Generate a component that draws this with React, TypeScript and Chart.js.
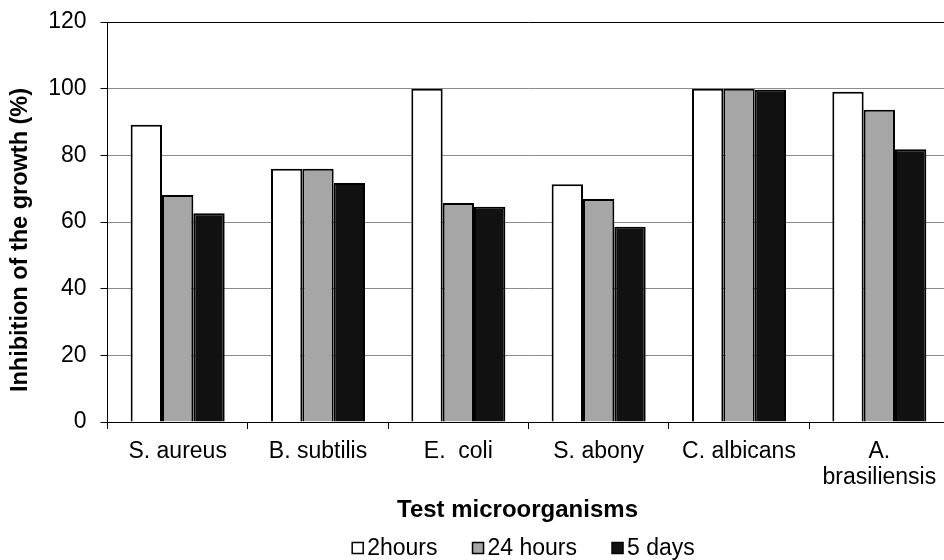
import React, { useEffect, useRef } from "react";
import { Chart, registerables } from "chart.js";

Chart.register(...registerables);

const categories: (string | string[])[] = [
  "S. aureus",
  "B. subtilis",
  "E.  coli",
  "S. abony",
  "C. albicans",
  ["A.", "brasiliensis"],
];
const seriesNames = ["2hours", "24 hours", "5 days"];
const values2h = [89.2, 76.0, 100, 71.3, 100, 99.1];
const values24h = [68.1, 76.0, 65.7, 66.9, 100, 93.7];
const values5d = [62.6, 71.7, 64.6, 58.6, 99.7, 81.8];
const seriesColors = ["#ffffff", "#a6a6a6", "#111111"];
const yMin = 0;
const yMax = 120;
const yStep = 20;
const yTitle = "Inhibition of the growth (%)";
const xTitle = "Test microorganisms";

const FONT = "'Liberation Sans', Arial, Helvetica, sans-serif";

// Draws axis titles (positioned like the original, slightly off the plot centre)
const titlesPlugin = {
  id: "axisTitles",
  afterDraw(chart: any) {
    const ctx = chart.ctx as CanvasRenderingContext2D;
    const ca = chart.chartArea;
    ctx.save();
    ctx.fillStyle = "#000";
    ctx.textAlign = "center";
    ctx.textBaseline = "middle";
    // y title
    ctx.font = `bold 23.5px ${FONT}`;
    ctx.translate(20.5, (ca.top + ca.bottom) / 2 + 18);
    ctx.rotate(-Math.PI / 2);
    ctx.fillText(yTitle, 0, 0);
    ctx.restore();
    ctx.save();
    ctx.fillStyle = "#000";
    ctx.textAlign = "center";
    ctx.textBaseline = "middle";
    ctx.font = `bold 24px ${FONT}`;
    ctx.fillText(xTitle, (ca.left + ca.right) / 2 - 11, ca.bottom + 88.5);
    ctx.restore();
  },
};

const legendPlugin = {
  id: "bottomLegend",
  afterDraw(chart: any) {
    const ctx = chart.ctx as CanvasRenderingContext2D;
    ctx.save();
    ctx.font = `23px ${FONT}`;
    const box = 11;
    const gap = 4;
    const spacing = 35;
    const items = chart.data.datasets.map((ds: any) => ({
      label: ds.label as string,
      color: ds.backgroundColor as string,
      w: ctx.measureText(ds.label).width,
    }));
    const total =
      items.reduce((s: number, it: any) => s + box + gap + it.w, 0) +
      spacing * (items.length - 1);
    const ca = chart.chartArea;
    let x = (ca.left + ca.right) / 2 - total / 2 - 5;
    const y = chart.height - 12;
    ctx.textBaseline = "middle";
    ctx.textAlign = "left";
    for (const it of items) {
      ctx.fillStyle = it.color;
      ctx.fillRect(x, y - box / 2, box, box);
      ctx.lineWidth = 1.5;
      ctx.strokeStyle = "#000";
      ctx.strokeRect(x, y - box / 2, box, box);
      ctx.fillStyle = "#000";
      ctx.fillText(it.label, x + box + gap, y + 1);
      x += box + gap + it.w + spacing;
    }
    ctx.restore();
  },
};

export default function App() {
  const ref = useRef<HTMLCanvasElement | null>(null);

  useEffect(() => {
    if (!ref.current) return;
    Chart.defaults.color = "#000";
    const seriesData = [values2h, values24h, values5d];
    const chart = new Chart(ref.current, {
      type: "bar",
      data: {
        labels: categories as any,
        datasets: seriesNames.map((name, i) => ({
          label: name,
          data: seriesData[i],
          backgroundColor: seriesColors[i],
          borderColor: "#000",
          borderWidth: 2,
          categoryPercentage: 0.67,
          barPercentage: 1.0,
        })),
      },
      options: {
        responsive: false,
        animation: false,
        devicePixelRatio: 1,
        layout: { padding: { top: 22, left: 0, right: 2.5, bottom: 0 } },
        plugins: {
          legend: { display: false },
          tooltip: { enabled: false },
        },
        scales: {
          x: {
            grid: {
              display: true,
              drawOnChartArea: false,
              offset: true,
              tickLength: 7,
              tickColor: "#000",
              lineWidth: 1,
            },
            border: { display: true, color: "#000", width: 1 },
            ticks: {
              color: "#000",
              padding: 10,
              maxRotation: 0,
              autoSkip: false,
              font: { family: FONT, size: 23, lineHeight: 1.12 },
            },
            title: { display: false },
            afterFit: (scale: any) => {
              scale.height = 138;
            },
          },
          y: {
            min: yMin,
            max: yMax,
            ticks: {
              stepSize: yStep,
              color: "#000",
              padding: 14,
              font: { family: FONT, size: 23 },
            },
            grid: {
              color: (c: any) => (c.tick && c.tick.value === yMax ? "#000" : "#8c8c8c"),
              lineWidth: 1,
              tickLength: 7,
              tickColor: "#000",
            },
            border: { display: true, color: "#000", width: 1 },
            title: { display: false },
            afterFit: (scale: any) => {
              scale.width = 107.5;
              scale.paddingTop = 0;
              scale.paddingBottom = 0;
            },
          },
        },
      },
      plugins: [titlesPlugin, legendPlugin],
    });
    return () => chart.destroy();
  }, []);

  return (
    <div
      style={{
        position: "absolute",
        left: 0,
        top: 0,
        width: 944,
        height: 560,
        overflow: "hidden",
        background: "#fff",
      }}
    >
      <canvas ref={ref} width={952} height={560} style={{ display: "block" }} />
    </div>
  );
}
